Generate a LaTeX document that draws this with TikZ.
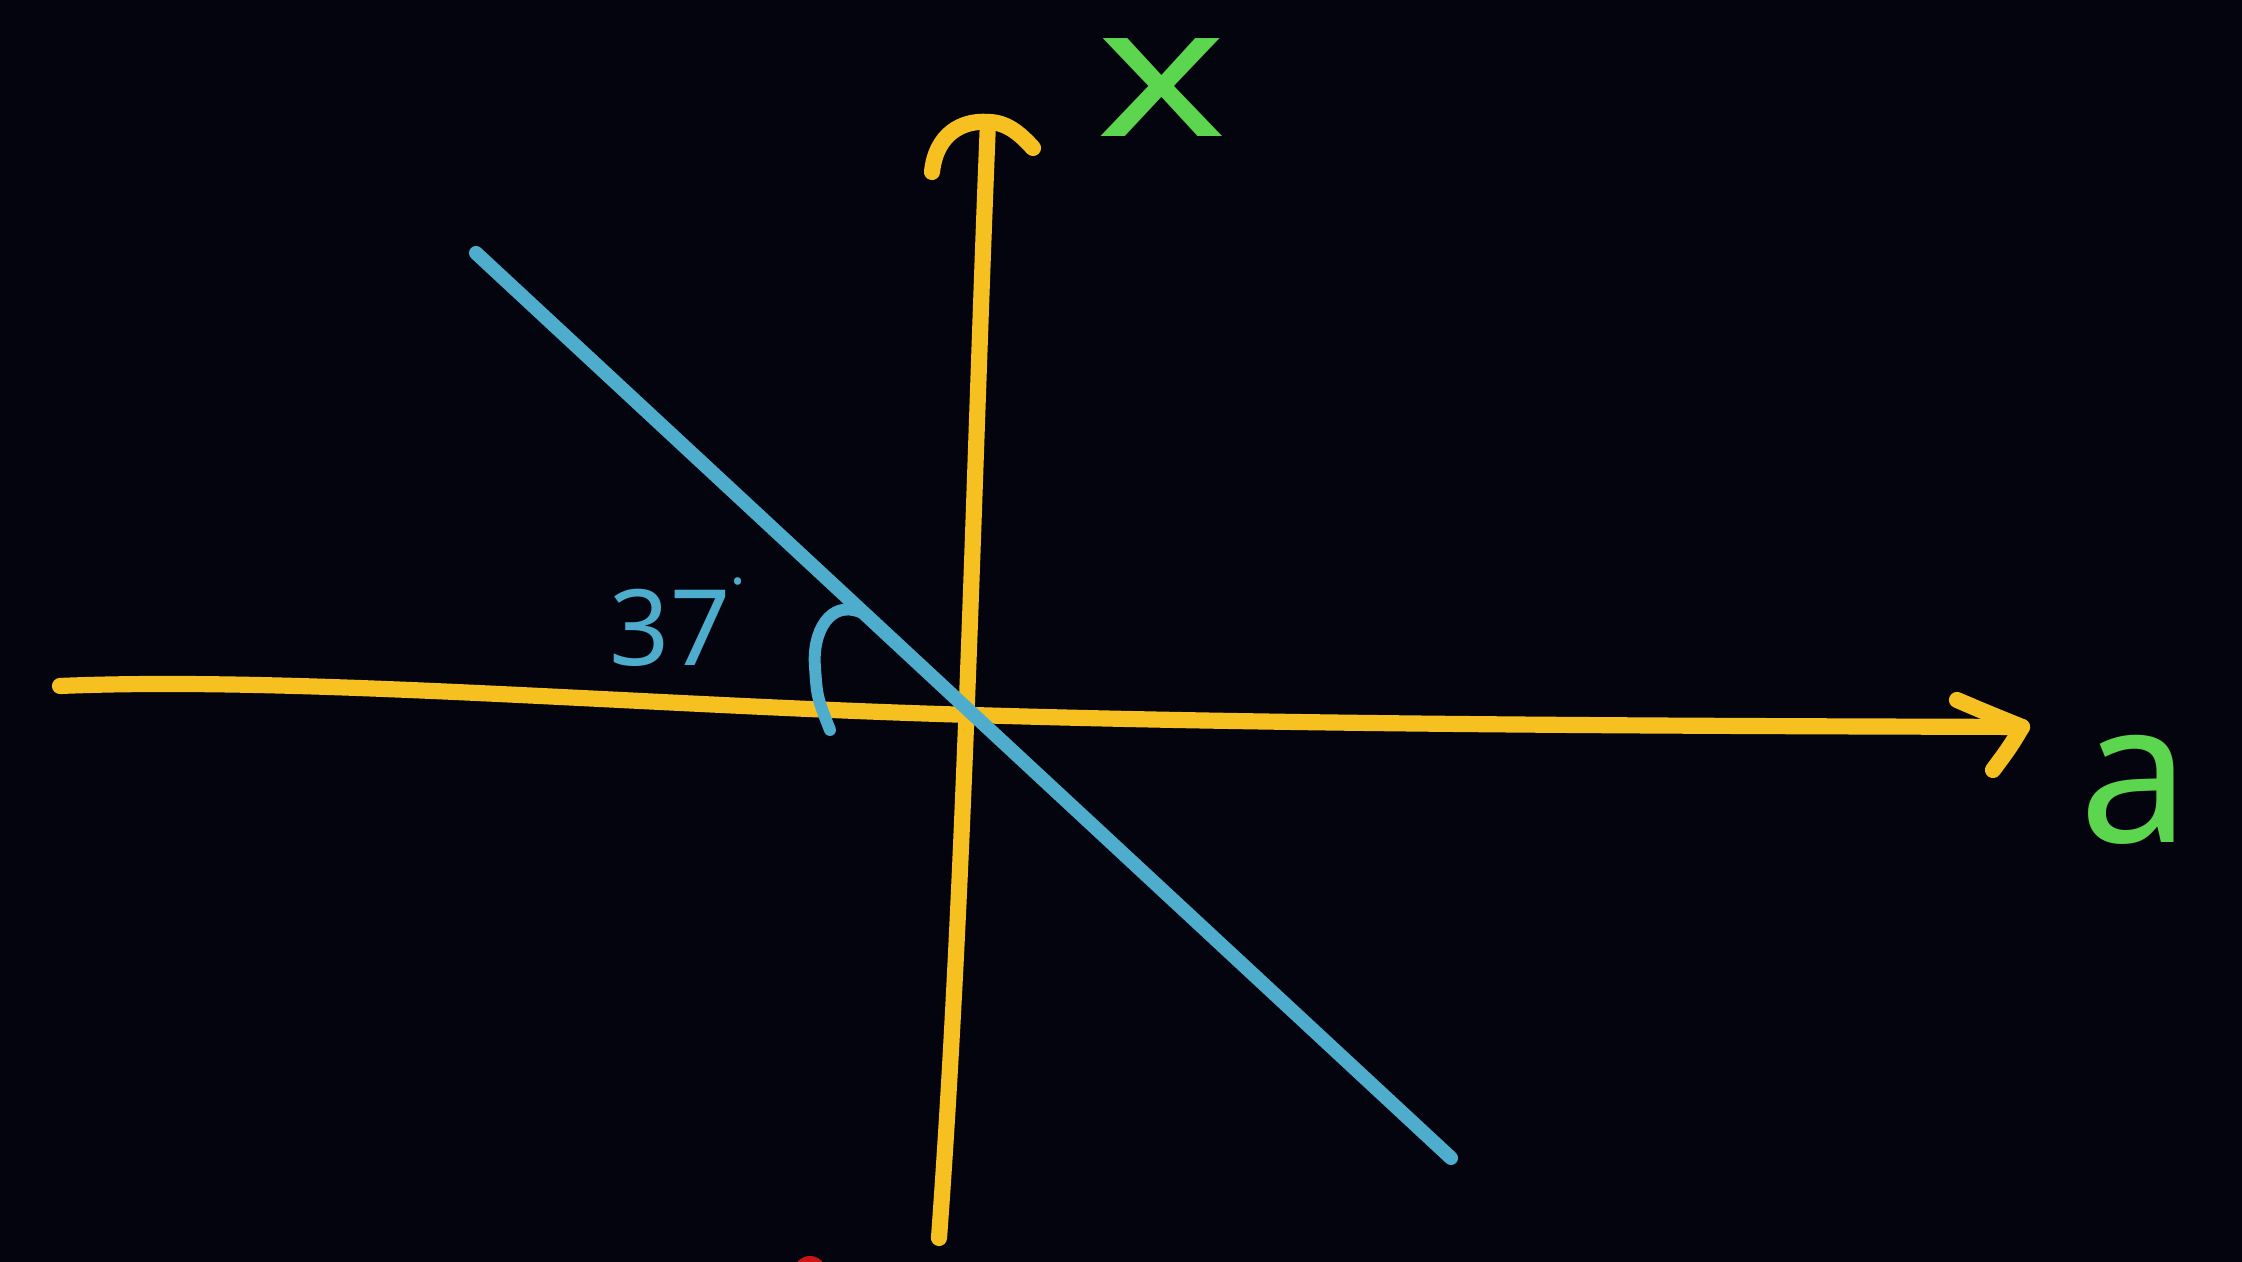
\documentclass[tikz,border=0pt]{standalone}
\usepackage{fontspec}
\setmainfont{Noto Sans}
\usetikzlibrary{calc}
\definecolor{bg}{RGB}{4,4,14}
\definecolor{axisyellow}{RGB}{246,192,32}
\definecolor{lineblue}{RGB}{78,172,204}
\definecolor{labelgreen}{RGB}{92,214,78}
\definecolor{markred}{RGB}{200,20,20}
\tikzset{
  axisline/.style={draw=axisyellow, line width=4.6pt, line cap=round, line join=round},
  blueline/.style={draw=lineblue, line width=4.0pt, line cap=round},
  anglearc/.style={draw=lineblue, line width=3.4pt, line cap=round},
  greenlabel/.style={text=labelgreen, inner sep=0pt},
  bluelabel/.style={text=lineblue, font=\fontsize{30}{36}\selectfont, inner sep=0pt}
}
\begin{document}
\begin{tikzpicture}
\fill[bg] (0,0) rectangle (22.42,12.62);
\useasboundingbox (0,0) rectangle (22.42,12.62);
\clip (0,0) rectangle (22.42,12.62);
% coordinates
\coordinate (hL) at (0.60,5.76);
\coordinate (hTip) at (20.22,5.35);
\coordinate (hB1) at (19.57,5.62);
\coordinate (hB2) at (19.93,4.92);
\coordinate (O) at (9.72,5.47);
\coordinate (vB) at (9.39,0.24);
\coordinate (vTip) at (9.88,11.40);
\coordinate (vB1) at (9.32,10.90);
\coordinate (vB2) at (10.33,11.14);
\coordinate (bA) at (4.76,10.09);
\coordinate (bB) at (14.51,1.04);
\coordinate (arcS) at (8.60,6.50);
\coordinate (arcE) at (8.30,5.32);
% horizontal axis
\draw[axisline] (hL) .. controls (3.0,5.86) and (6.5,5.56) .. (O)
  .. controls (13.0,5.37) and (17.0,5.36) .. (hTip);
\draw[axisline] (hB1) .. controls (19.85,5.50) .. (hTip) .. controls (20.10,5.15) .. (hB2);
% vertical axis
\draw[axisline] (vB) .. controls (9.65,3.8) and (9.74,8.0) .. (vTip);
\draw[axisline] (vB1) .. controls (9.36,11.28) and (9.62,11.42) .. (vTip)
  .. controls (10.08,11.40) and (10.22,11.26) .. (vB2);
% blue line
\draw[blueline] (bA) -- (bB);
% angle arc
\draw[anglearc] (arcS) .. controls (8.30,6.62) and (8.12,6.30) .. (8.15,5.95) .. controls (8.17,5.65) .. (arcE);
% labels
\node[bluelabel] (ang) at (6.70,6.34) {37};
\node[text=lineblue, font=\fontsize{16}{18}\selectfont, inner sep=0pt] (deg) at (7.38,6.80) {.};
\node[greenlabel, font=\fontsize{52}{60}\selectfont, xscale=1.35] (lx) at (11.62,11.74) {x};
\node[greenlabel, font=\fontsize{56}{64}\selectfont] (la) at (21.35,4.72) {a};
% red mark at bottom edge
\fill[markred] (8.10,-0.10) circle (0.16);
\end{tikzpicture}
\end{document}
